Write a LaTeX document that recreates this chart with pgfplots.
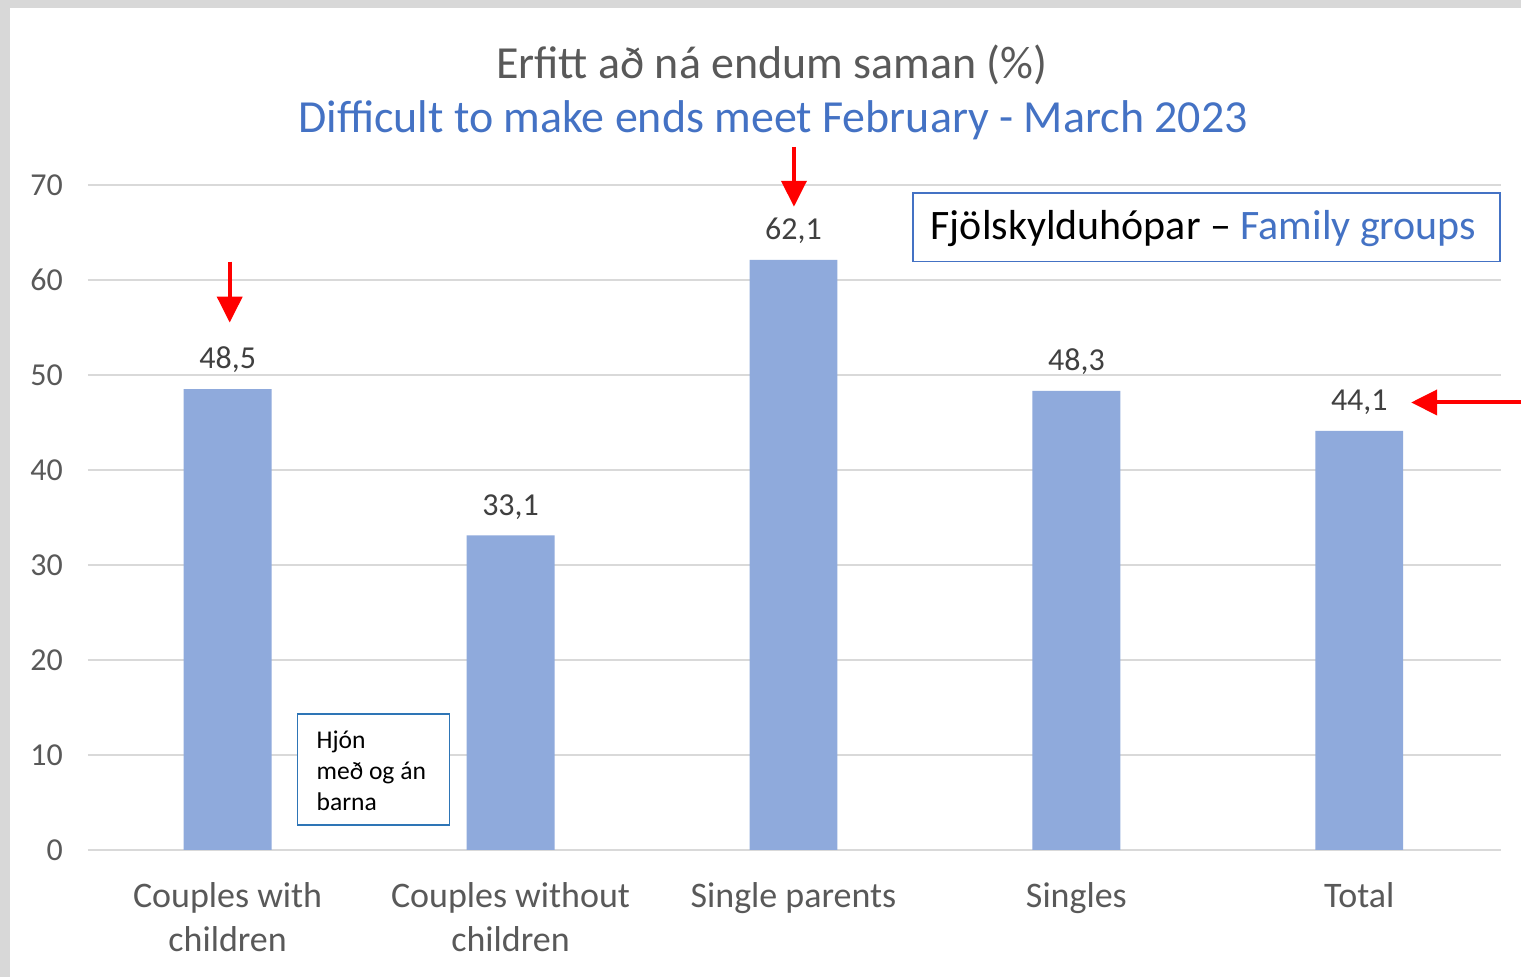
\documentclass[border=0pt]{standalone}
\usepackage{pgfplots}
\pgfplotsset{compat=1.18}
\usetikzlibrary{arrows.meta}
\usepackage{fontspec}
\setmainfont{Carlito}
\definecolor{barblue}{RGB}{143,170,220}
\definecolor{titleblue}{RGB}{68,114,196}
\definecolor{txtgray}{RGB}{89,89,89}
\definecolor{lblgray}{RGB}{64,64,64}
\definecolor{gridgray}{RGB}{217,217,217}
\definecolor{framegray}{RGB}{216,216,216}
\definecolor{boxblue}{RGB}{46,117,182}
\begin{document}
\begin{tikzpicture}[x=0.5pt,y=-0.5pt]
\fill[framegray] (0,0) rectangle (1523,978);
\fill[white] (10,8) rectangle (1523,978);
\begin{axis}[
  at={(44pt,-425.5pt)}, anchor=south west,
  scale only axis, width=707.5pt, height=333pt,
  xmin=-0.494, xmax=4.501, ymin=0, ymax=70,
  axis line style={draw=none},
  ytick={0,10,...,70},
  ymajorgrids, grid style={gridgray, line width=0.9pt},
  xtick={0,1,2,3,4},
  xticklabels={{Couples with\\children},{Couples without\\children},{Single parents},{Singles},{Total}},
  major tick length=0pt,
  /pgf/number format/assume math mode=true,
  yticklabel style={font=\fontsize{16}{16}\selectfont, text=txtgray, xshift=-9pt},
  xticklabel style={font=\fontsize{18}{22}\selectfont, text=txtgray, align=center, yshift=-13pt, anchor=north},
  ybar, bar width=44pt,
  nodes near coords={\pgfmathprintnumber[fixed,fixed zerofill,precision=1,use comma,assume math mode=true]{\pgfplotspointmeta}},
  every node near coord/.append style={font=\fontsize{16}{16}\selectfont, text=lblgray, yshift=4.5pt},
  clip=false,
]
\addplot[fill=barblue, draw=none] coordinates {(0,48.5) (1,33.1) (2,62.1) (3,48.3) (4,44.1)};
\end{axis}
\node[text=txtgray, font=\fontsize{23}{23}\selectfont] at (773,65) {Erfitt að ná endum saman (\%)};
\node[text=titleblue, font=\fontsize{23}{23}\selectfont] at (774,120) {Difficult to make ends meet February - March 2023};
\draw[titleblue, line width=0.8pt, fill=white] (914,193) rectangle (1502,262);
\node[font=\fontsize{21}{21}\selectfont] at (1205,229) {Fjölskylduhópar – \textcolor{titleblue}{Family groups}};
\draw[boxblue, line width=0.8pt, fill=white] (298,715) rectangle (450,826);
\node[font=\fontsize{12.8}{15.5}\selectfont, align=left, anchor=west] at (310,772) {Hjón\\með og án\\barna};
\draw[red, line width=2pt, -{Triangle[length=13pt,width=12.5pt]}] (230,262) -- (230,323);
\draw[red, line width=2pt, -{Triangle[length=13pt,width=12.5pt]}] (795,147) -- (795,207);
\draw[red, line width=2pt, -{Triangle[length=13pt,width=12.5pt]}] (1523,403) -- (1413,403);
\end{tikzpicture}
\end{document}
